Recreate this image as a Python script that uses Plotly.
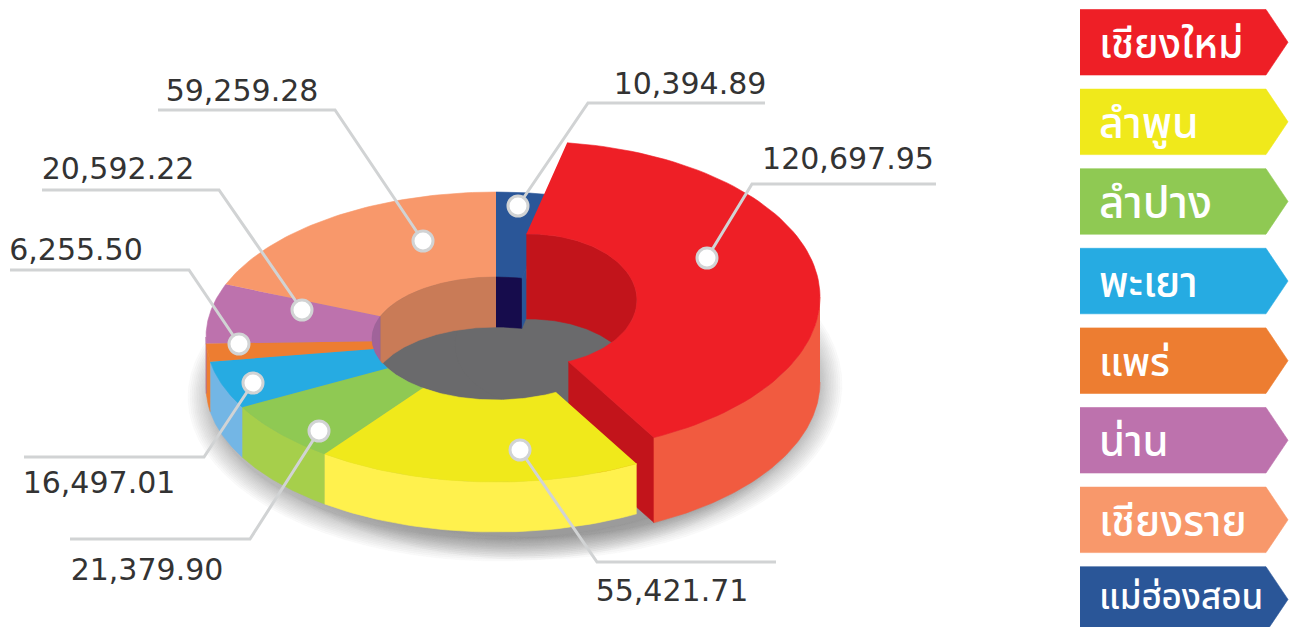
import numpy as np
import plotly.graph_objects as go

# ---- data (legend order) ----
provinces = ["เชียงใหม่", "ลำพูน", "ลำปาง", "พะเยา", "แพร่", "น่าน", "เชียงราย", "แม่ฮ่องสอน"]
values = [120697.95, 55421.71, 21379.90, 16497.01, 6255.50, 20592.22, 59259.28, 10394.89]

# ---- styles ----
TOP = ["#EE1F26", "#F0E91B", "#8FC953", "#26ABE2", "#ED7D31", "#BD72AD", "#F8986B", "#2A5698"]
SIDE = ["#F15B40", "#FFF14D", "#A6CF4B", "#73B6E5", "#ED7D31", "#A5639B", "#F8986B", "#2A5698"]
WALL = ["#C2141B", "#F0E91B", "#8FC953", "#26ABE2", "#ED7D31", "#A0639A", "#C97B57", "#160C4C"]
FLOOR = "#6A6A6C"
LINE = "#D1D3D4"
TAG_SIZE = [41, 43, 44, 42, 40, 42, 42, 35]
TAG_SHIFT = [3, 3, 3, 3, 3, 3, 3, -1]

CX, CY, RX, RY = 496, 337, 290, 145          # ring outer ellipse
HCY, HX, HY = 338.5, 124, 61.5               # hole ellipse
DEPTH = 50
RCX, RCY, RRX, RRY = 530, 297, 290, 155.5    # exploded slice outer
RHCY, RHX, RHY = 300, 107, 66                # exploded slice hole
RDEPTH = 85

# leader geometry: (dot x, dot y, corner x, corner y, far x, label x, label y)
LEADERS = [
    (707, 258, 752, 184, 936, 848, 161),
    (520, 450, 597, 562, 776, 672, 593),
    (319, 431, 250, 539, 70, 147, 572),
    (253, 383, 204, 457, 24, 99, 485),
    (239, 344, 189, 270, 10, 76, 252),
    (302, 310, 219, 190, 42, 118, 171),
    (423, 241, 335, 110, 158, 242, 93),
    (518, 206, 588, 103, 765, 690, 86),
]

fig = go.Figure()


def poly(xs, ys, color):
    fig.add_trace(go.Scatter(x=list(xs), y=list(ys), mode="lines", fill="toself", fillcolor=color,
                             line=dict(color=color, width=0.6), hoverinfo="skip", showlegend=False))


def ell(cx, cy, rx, ry, a, b, n=80):
    t = np.radians(np.linspace(a, b, n))
    return cx + rx * np.sin(t), cy - ry * np.cos(t)


def wall(cx, cy, rx, ry, a, b, depth, color):
    t = np.radians(np.linspace(a, b, 90))
    x = cx + rx * np.sin(t)
    c = np.abs(np.cos(t))
    up = cy - ry * c
    low = np.minimum(up + depth, cy + ry * c)
    poly(np.r_[x, x[::-1]], np.r_[up, low[::-1]], color)


# slice angles: the navy slice starts at 12 o'clock, clockwise, then legend order
total = sum(values)
sweep = [v / total * 360 for v in values]
start = sweep[-1]
angles = []
cur = start
for s in sweep[:-1]:
    angles.append((cur, cur + s))
    cur += s
angles.append((cur, cur + sweep[-1]))

# ---- soft shadow ----
LAYERS = 18
SHADOW = "rgba(130,132,138,0.045)"
for k in range(LAYERS):
    g = 24 * (1 - k / LAYERS) ** 1.5 - 4
    x, y = ell(CX + 2, CY + 60, RX + g, RY + g * 0.95, 0, 360)
    poly(x, y, SHADOW)
    x, y = ell(RCX + 2, RCY + 88, RRX + g, RRY + g * 0.95, 0, 360)
    poly(x, y, SHADOW)

# ---- hole floor ----
x, y = ell(CX, HCY, HX, HY, 0, 360)
poly(x, y, FLOOR)
x, y = ell(545, 345, 90, 62, 0, 360)
poly(x, y, FLOOR)

# ---- exploded slice: cut face and side ----
r0, r1 = angles[0]
ro0, ro1 = r0 - 4.7, r1 + 2.7
ri0, ri1 = r0 - 14, r1 + 7
ox, oy = ell(RCX, RCY, RRX, RRY, ro0, ro1)
ix, iy = ell(RCX, RHCY, RHX, RHY, ri0, ri1)
poly([ix[-1], ox[-1], ox[-1], ix[-1]], [iy[-1], oy[-1], oy[-1] + RDEPTH, iy[-1] + RDEPTH], WALL[0])
x, y = ell(RCX, RCY, RRX, RRY, 90, ro1)
poly(np.r_[x, x[::-1]], np.r_[y, y[::-1] + RDEPTH], SIDE[0])

# ---- ring: outer sides ----
for i in range(1, 8):
    a, b = angles[i]
    a = a - 1 if i == 1 else a
    a, b = max(a, 90), min(b, 270)
    if b > a:
        x, y = ell(CX, CY, RX, RY, a, b, 40)
        poly(np.r_[x, x[::-1]], np.r_[y, y[::-1] + DEPTH], SIDE[i])

# ---- ring: top faces ----
for i in range(1, 8):
    a, b = angles[i]
    a = a - 1 if i == 1 else a
    x1, y1 = ell(CX, CY, RX, RY, a, b, 60)
    x2, y2 = ell(CX, HCY, HX, HY, b, a, 60)
    poly(np.r_[x1, x2], np.r_[y1, y2], TOP[i])

# ---- hole walls ----
wall(CX, HCY, HX, HY, 270, angles[5][1], DEPTH, WALL[5])
wall(CX, HCY, HX, HY, angles[6][0], angles[6][1], DEPTH, WALL[6])
wall(CX, HCY, HX, HY, angles[7][0], angles[7][1] + 0.01, DEPTH, WALL[7])

# navy slice: cut face
nx, ny = ell(CX, HCY, HX, HY, start, start, 1)
qx, qy = ell(CX, CY, RX, RY, start, start, 1)
nx, ny, qx, qy = nx[0], ny[0], qx[0], qy[0]
t = (ix[0] - nx) / (qx - nx)
px, py = nx + t * (qx - nx), ny + t * (qy - ny)
poly([nx, px, px, nx], [ny, py, py + DEPTH, ny + DEPTH], TOP[7])

# ---- exploded slice: wall and top ----
wall(RCX, RHCY, RHX, RHY, ri0, 90, RDEPTH, WALL[0])
poly(np.r_[ox, ix[::-1]], np.r_[oy, iy[::-1]], TOP[0])

# ---- leaders ----
for (dx, dy, cx, cy, fx, lx, ly), v in zip(LEADERS, values):
    fig.add_trace(go.Scatter(x=[dx, cx, fx], y=[dy, cy, cy], mode="lines",
                             line=dict(color=LINE, width=3), hoverinfo="skip", showlegend=False))
    fig.add_trace(go.Scatter(x=[dx], y=[dy], mode="markers",
                             marker=dict(color="white", size=20, line=dict(color=LINE, width=3)),
                             hoverinfo="skip", showlegend=False))
    fig.add_trace(go.Scatter(x=[lx], y=[ly], mode="text", text=[f"{v:,.2f}"], textposition="middle center",
                             textfont=dict(family="DejaVu Sans", size=30, color="#333333"),
                             hoverinfo="skip", showlegend=False))

# ---- legend tags ----
for i, name in enumerate(provinces):
    y0 = 9.5 + i * 79.6
    y1 = y0 + 65.5
    poly([1080, 1266, 1288, 1266, 1080], [y0, y0, (y0 + y1) / 2, y1, y1], TOP[i])
    fig.add_annotation(x=1097, y=(y0 + y1) / 2 + TAG_SHIFT[i], text=name, showarrow=False, xanchor="left",
                       yanchor="middle",
                       font=dict(family="Noto Sans Thai, Noto Sans, sans-serif", size=TAG_SIZE[i], color="white",
                                 weight=500))

fig.update_layout(width=1296, height=627, margin=dict(l=0, r=0, t=0, b=0),
                  paper_bgcolor="white", plot_bgcolor="white",
                  xaxis=dict(range=[0, 1296], visible=False, fixedrange=True),
                  yaxis=dict(range=[627, 0], visible=False, fixedrange=True))

fig.write_html("out.html", config=dict(displayModeBar=False),
               post_script="document.body.style.margin='0';document.body.style.overflow='hidden';")
